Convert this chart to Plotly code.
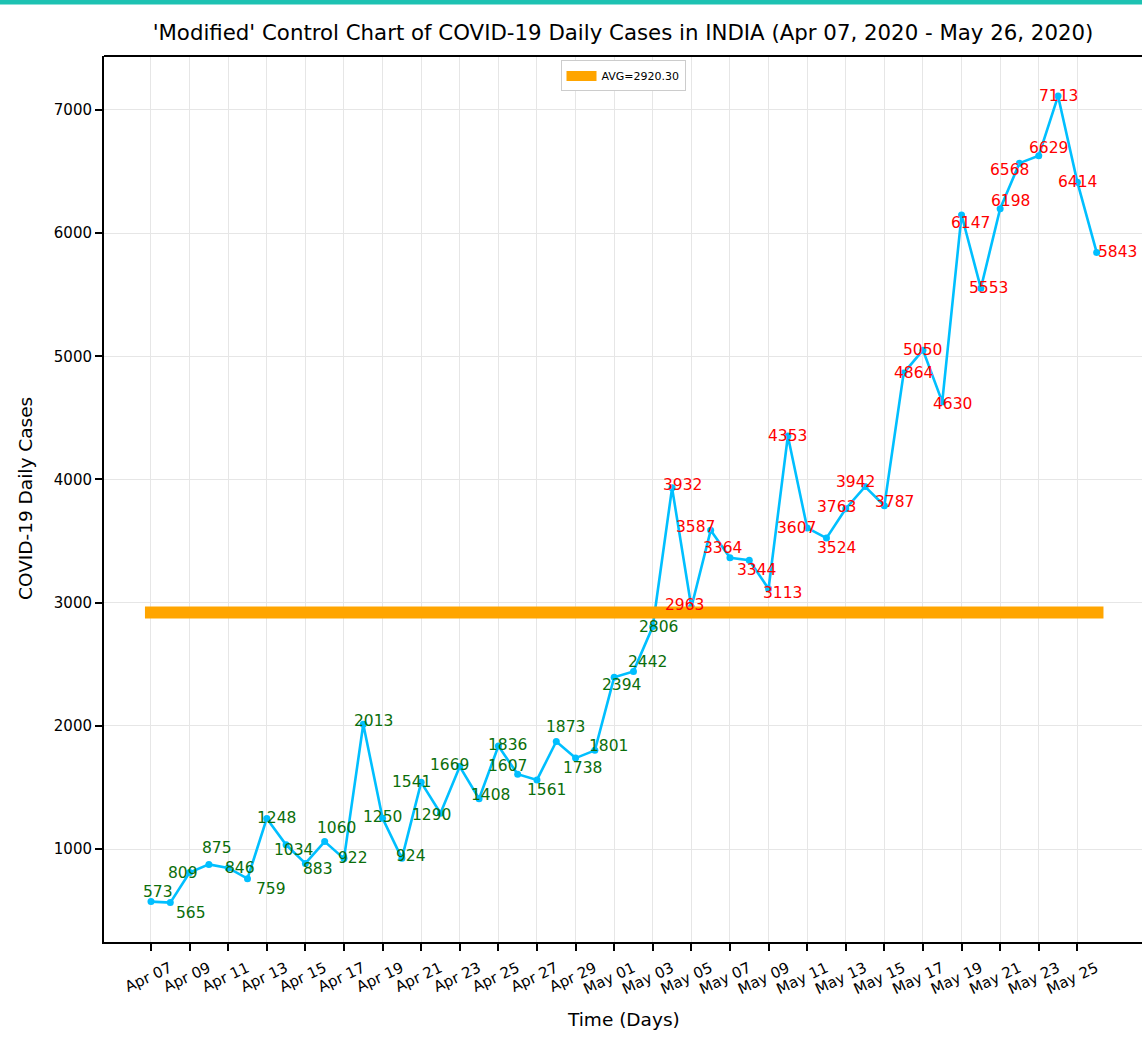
import plotly.graph_objects as go
import pandas as pd

dates = ["2020-04-07", "2020-04-08", "2020-04-09", "2020-04-10", "2020-04-11", "2020-04-12",
         "2020-04-13", "2020-04-14", "2020-04-15", "2020-04-16", "2020-04-17", "2020-04-18",
         "2020-04-19", "2020-04-20", "2020-04-21", "2020-04-22", "2020-04-23", "2020-04-24",
         "2020-04-25", "2020-04-26", "2020-04-27", "2020-04-28", "2020-04-29", "2020-04-30",
         "2020-05-01", "2020-05-02", "2020-05-03", "2020-05-04", "2020-05-05", "2020-05-06",
         "2020-05-07", "2020-05-08", "2020-05-09", "2020-05-10", "2020-05-11", "2020-05-12",
         "2020-05-13", "2020-05-14", "2020-05-15", "2020-05-16", "2020-05-17", "2020-05-18",
         "2020-05-19", "2020-05-20", "2020-05-21", "2020-05-22", "2020-05-23", "2020-05-24",
         "2020-05-25", "2020-05-26"]
daily_cases = [573, 565, 809, 875, 846, 759, 1248, 1034, 883, 1060, 922, 2013, 1250, 924,
               1541, 1290, 1669, 1408, 1836, 1607, 1561, 1873, 1738, 1801, 2394, 2442, 2806,
               3932, 2963, 3587, 3364, 3344, 3113, 4353, 3607, 3524, 3763, 3942, 3787, 4864,
               5050, 4630, 6147, 5553, 6198, 6568, 6629, 7113, 6414, 5843]
y_ticks = [1000, 2000, 3000, 4000, 5000, 6000, 7000]

# label pixel offsets (style): (dx, dy) with dy positive downward
label_offsets = [(7, -10), (21, 10), (-7, 0), (8, -16), (12, 0), (24, 10), (10, 0), (7, 5),
                 (13, 6), (12, -14), (9, -1), (10, -3), (0, -1), (9, -2), (-10, 0), (-9, 2),
                 (-10, -2), (11, -4), (9, -1), (-10, -8), (10, 10), (9, -14), (7, 10), (14, -4),
                 (7, 8), (14, -9), (6, 0), (10, -3), (-7, -2), (-15, -3), (-7, -10), (7, 10),
                 (14, 4), (0, 0), (-11, 0), (10, 10), (-9, -2), (-10, -5), (10, -4), (10, 0),
                 (0, 0), (10, 2), (9, 8), (8, 0), (10, -8), (-10, 7), (10, -8), (0, 0),
                 (0, 0), (21, 0)]

x = pd.to_datetime(dates)
avg = sum(daily_cases) / len(daily_cases)

FONT = "DejaVu Sans"
fig = go.Figure()

fig.add_trace(go.Scatter(
    x=x, y=daily_cases, mode="lines+markers",
    line=dict(color="#00BFFF", width=2.6),
    marker=dict(color="#00BFFF", size=7),
    showlegend=False, hoverinfo="x+y",
))

pad0 = pd.Timedelta(hours=7.5)
pad1 = pd.Timedelta(hours=8.5)
fig.add_trace(go.Scatter(
    x=[x[0] - pad0, x[-1] + pad1], y=[avg, avg], mode="lines",
    line=dict(color="#FFA500", width=12),
    name=f"AVG={avg:.2f}", showlegend=True,
))

annotations = []
for xi, v, (dx, dy) in zip(x, daily_cases, label_offsets):
    annotations.append(dict(
        x=xi, y=v, xref="x", yref="y", text=str(v), showarrow=False,
        xshift=dx, yshift=-dy,
        font=dict(family=FONT, size=15.5, color="#FF0000" if v > avg else "#0B6E0B"),
    ))

annotations.append(dict(
    text="Time (Days)", xref="paper", yref="paper", x=0.5, y=0,
    yanchor="middle", yshift=-77, showarrow=False,
    font=dict(family=FONT, size=18.5, color="black"),
))
annotations.append(dict(
    text="COVID-19 Daily Cases", xref="paper", yref="paper", x=0, y=0.5,
    xanchor="center", xshift=-79, textangle=-90, showarrow=False,
    font=dict(family=FONT, size=18.5, color="black"),
))

fig.update_layout(
    width=1142, height=1042,
    margin=dict(l=104, r=0, t=56, b=100),
    paper_bgcolor="white", plot_bgcolor="white",
    font=dict(family=FONT, color="black"),
    title=dict(
        text="'Modified' Control Chart of COVID-19 Daily Cases in INDIA (Apr 07, 2020 - May 26, 2020)",
        x=0.5, xref="paper", xanchor="center",
        y=1 - 33 / 1042, yref="container", yanchor="middle",
        font=dict(family=FONT, size=21.3, color="black"),
    ),
    legend=dict(
        x=0.5, xanchor="center", y=0.995, yanchor="top",
        bgcolor="white", bordercolor="#cccccc", borderwidth=1,
        font=dict(family=FONT, size=11, color="black"),
        tracegroupgap=0, itemwidth=30,
    ),
    annotations=annotations,
    shapes=[
        dict(type="line", xref="paper", yref="paper", x0=0, x1=1, y0=1, y1=1,
             line=dict(color="black", width=2)),
        dict(type="rect", xref="paper", yref="paper", x0=-104 / 1038, x1=1,
             y0=1 + 51.5 / 886, y1=1 + 56.5 / 886, line=dict(width=0), fillcolor="#1DC2B2"),
    ],
)

fig.update_xaxes(
    type="date",
    range=[x[0] - pd.Timedelta(days=2.435), x[0] + pd.Timedelta(days=51.35)],
    tickvals=list(x[::2]), tickformat="%b %d", tickangle=-25,
    ticks="outside", ticklen=7, tickwidth=1.5, tickcolor="black",
    showgrid=True, gridcolor="#e6e6e6", gridwidth=1,
    showline=True, linecolor="black", linewidth=2,
    tickfont=dict(family=FONT, size=15, color="black"),
    ticklabelshift=19, ticklabelstandoff=3,
    zeroline=False,
)
fig.update_yaxes(
    range=[245, 7438], tickvals=y_ticks,
    ticks="outside", ticklen=7, tickwidth=1.5, tickcolor="black",
    showgrid=True, gridcolor="#e6e6e6", gridwidth=1,
    showline=True, linecolor="black", linewidth=2,
    tickfont=dict(family=FONT, size=15, color="black"),
    zeroline=False,
)

fig.write_html("out.html", config={"displayModeBar": False},
               post_script="document.body.style.margin='0';")
